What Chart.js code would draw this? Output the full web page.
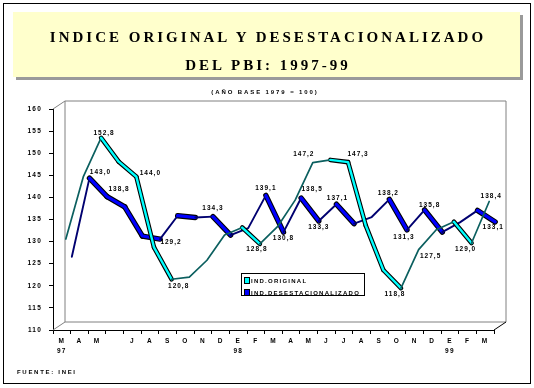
<!DOCTYPE html>
<html><head><meta charset="utf-8">
<script src="https://cdn.jsdelivr.net/npm/chart.js@4.4.0/dist/chart.umd.min.js"></script>
<style>
html,body{margin:0;padding:0;background:#fff;}
#wrap{position:relative;width:534px;height:388px;overflow:hidden;background:#fff;}
#c{position:absolute;left:0;top:0;}
#frame{position:absolute;left:3px;top:3px;width:528px;height:381px;border:1px solid #000;box-sizing:border-box;}
#tshadow{position:absolute;left:16px;top:15px;width:507px;height:65px;background:#9a9a9a;}
#tbox{position:absolute;left:13px;top:12px;width:507px;height:65px;background:#FFFFCC;}
.t{position:absolute;left:13px;width:507px;padding-left:3px;box-sizing:border-box;text-align:center;font:bold 15px "Liberation Serif",serif;letter-spacing:3px;line-height:20px;color:#000;white-space:nowrap;}
#sub{position:absolute;left:0;top:87px;width:530px;text-align:center;font:bold 6px "Liberation Sans",Arial,sans-serif;letter-spacing:1.9px;line-height:10px;white-space:nowrap;}
#legend{position:absolute;left:241px;top:273px;width:124px;height:23px;border:1px solid #000;box-sizing:border-box;background:#fff;}
.sq{position:absolute;left:2px;width:6px;height:7px;border:1px solid #000;box-sizing:border-box;}
.lt{position:absolute;left:9px;font:bold 6px "Liberation Sans",Arial,sans-serif;letter-spacing:1.25px;line-height:8px;white-space:nowrap;}
#foot{position:absolute;left:17px;top:367px;font:bold 6px "Liberation Sans",Arial,sans-serif;letter-spacing:1.7px;line-height:10px;white-space:nowrap;}
</style>
</head><body>
<div id="wrap">
<canvas id="c" width="534" height="388"></canvas>
<div id="frame"></div>
<div id="tshadow"></div><div id="tbox"></div>
<div class="t" style="top:27px">INDICE ORIGINAL Y DESESTACIONALIZADO</div>
<div class="t" style="top:55px">DEL PBI: 1997-99</div>
<div id="sub">(AÑO BASE 1979 = 100)</div>
<div id="legend">
  <div class="sq" style="top:3px;background:#00FFFF"></div><div class="lt" id="lg0" style="top:3px"></div>
  <div class="sq" style="top:15px;background:#0000FF"></div><div class="lt" id="lg1" style="top:15px"></div>
</div>
<div id="foot">FUENTE: INEI</div>
</div>
<script>
// ---- data ----
const months = ['M','A','M','','J','A','S','O','N','D','E','F','M','A','M','J','J','A','S','O','N','D','E','F','M'];
const years  = ['97','','','','','','','','','','98','','','','','','','','','','','','99','',''];
const seriesNames = ['IND.ORIGINAL','IND.DESESTACIONALIZADO'];
const indOriginal = [129.9,144.1,152.8,147.4,144.0,128.0,120.8,121.3,125.1,130.8,132.5,128.8,132.7,138.7,147.2,147.8,147.3,133.0,122.9,118.8,127.5,132.0,133.8,129.0,138.4];
const indDesest   = [125.2,143.0,138.8,136.5,129.9,129.2,134.5,134.1,134.3,130.1,131.7,139.1,130.8,138.5,133.3,137.1,132.7,134.2,138.2,131.3,135.8,130.8,133.0,135.7,133.1];
const yMin = 110, yMax = 160, yStep = 5;
const labeledOriginal = [2,4,6,11,14,16,19,20,23,24];
const labeledDesest   = [1,2,5,8,11,12,13,14,15,18,19,20,24];

// ---- styles ----
const labelOffsets = [
  {2:[3,-5],4:[14,-4],6:[7,7],11:[-3,5],14:[-9,-8],16:[10,-8],19:[-6,6],20:[12,7],23:[-6,6],24:[2,-5]},
  {1:[11,-6],2:[12,-8],5:[11,3],8:[0,-8],11:[0,-7],12:[0,6],13:[11,-9],14:[0,6],15:[1,-6],18:[-1,-6],19:[-3,7],20:[5,-5],24:[-2,5]}
];
const depthOffsets = [[4,-3],[10,-6]];
const styles = [
  {fill:'#00FFFF', rise:'#0b5f5f', w:2.4, ow:4.6, rw:1.7},
  {fill:'#0000FF', rise:'#000070', w:3.2, ow:5.4, rw:1.9}
];
const FONT = {family:'"Liberation Sans", Arial, sans-serif', size:6.5, weight:'bold'};

document.getElementById('lg0').textContent = seriesNames[0];
document.getElementById('lg1').textContent = seriesNames[1];

const labels = months.map((m,i)=> years[i] ? [m, years[i]] : m);
const fmt = v => v.toFixed(1).replace('.', ',');

const spacingPlugin = {
  id:'spacing',
  beforeDraw(chart){ chart.ctx.letterSpacing = '1.2px'; }
};

const wallPlugin = {
  id:'wall',
  beforeDatasetsDraw(chart){
    const {left,top,right,bottom} = chart.chartArea;
    const ctx = chart.ctx, dx = 11.5, dy = -8.5;
    ctx.save();
    ctx.strokeStyle = '#808080'; ctx.lineWidth = 1;
    ctx.beginPath();
    ctx.moveTo(left+dx+0.5, top+dy+0.5); ctx.lineTo(right+dx+0.5, top+dy+0.5);
    ctx.lineTo(right+dx+0.5, bottom+dy+0.5); ctx.lineTo(left+dx+0.5, bottom+dy+0.5); ctx.closePath();
    ctx.moveTo(left, top); ctx.lineTo(left+dx+0.5, top+dy+0.5);
    ctx.moveTo(left, bottom); ctx.lineTo(left+dx+0.5, bottom+dy+0.5);
    ctx.stroke();
    ctx.strokeStyle = '#000';
    ctx.beginPath(); ctx.moveTo(right, bottom); ctx.lineTo(right+dx+0.5, bottom+dy+0.5); ctx.stroke();
    ctx.restore();
  }
};

const ribbonPlugin = {
  id:'ribbon',
  beforeDatasetDraw(chart, args){
    const ctx = chart.ctx, i = args.index, [dx,dy] = depthOffsets[i];
    ctx.save(); ctx.translate(dx,dy);
    const pts = args.meta.data, ds = chart.data.datasets[i].data;
    ctx.strokeStyle = '#000'; ctx.lineWidth = styles[i].ow; ctx.lineJoin='round'; ctx.lineCap='round';
    for (let k=1;k<pts.length;k++){
      if (ds[k] < ds[k-1]) { ctx.beginPath(); ctx.moveTo(pts[k-1].x, pts[k-1].y); ctx.lineTo(pts[k].x, pts[k].y); ctx.stroke(); }
    }
  },
  afterDatasetDraw(chart){ chart.ctx.restore(); }
};

const dataLabelPlugin = {
  id:'dlabels',
  afterDatasetsDraw(chart){
    const ctx = chart.ctx;
    [labeledOriginal, labeledDesest].forEach((idxs, i)=>{
      const meta = chart.getDatasetMeta(i), ds = chart.data.datasets[i].data, [dx,dy] = depthOffsets[i];
      ctx.save(); ctx.translate(dx,dy);
      ctx.font = 'bold 6.5px "Liberation Sans", Arial, sans-serif';
      ctx.letterSpacing = '1px';
      ctx.fillStyle = '#000'; ctx.textAlign = 'center'; ctx.textBaseline = 'middle';
      idxs.forEach(k=>{
        const p = meta.data[k], off = labelOffsets[i][k] || [0,-6];
        ctx.fillText(fmt(ds[k]), p.x + off[0], p.y + off[1]);
      });
      ctx.restore();
    });
  }
};

function mkDataset(name, values, i){
  const s = styles[i];
  return {
    label: name, data: values, borderColor: s.fill, borderWidth: s.w,
    pointRadius: 0, tension: 0, fill: false, clip: false,
    borderJoinStyle: 'round', borderCapStyle: 'round',
    segment: {
      borderColor: c => c.p1.parsed.y >= c.p0.parsed.y ? s.rise : s.fill,
      borderWidth: c => c.p1.parsed.y >= c.p0.parsed.y ? s.rw : s.w
    }
  };
}

new Chart(document.getElementById('c'), {
  type: 'line',
  data: { labels, datasets: [mkDataset(seriesNames[0], indOriginal, 0), mkDataset(seriesNames[1], indDesest, 1)] },
  options: {
    responsive: false, animation: false, devicePixelRatio: 1,
    layout: { padding: { left: 0, top: 109, right: 40, bottom: 28 } },
    plugins: { legend: { display: false }, tooltip: { enabled: false } },
    scales: {
      x: {
        type: 'category', offset: true,
        grid: { display: true, drawOnChartArea: false, drawTicks: true, tickLength: 4, color: '#000', offset: true },
        border: { display: true, color: '#000', width: 1 },
        ticks: { autoSkip: false, maxRotation: 0, minRotation: 0, color: '#000', font: {...FONT, lineHeight: 1.55}, padding: 2 },
        afterFit: s => { s.height = 30; }
      },
      y: {
        min: yMin, max: yMax,
        grid: { display: true, drawOnChartArea: false, drawTicks: true, tickLength: 4, color: '#000' },
        border: { display: true, color: '#000', width: 1 },
        ticks: { stepSize: yStep, color: '#000', font: FONT, padding: 7, callback: v => String(v) },
        afterFit: s => { s.width = 53; }
      }
    }
  },
  plugins: [spacingPlugin, wallPlugin, ribbonPlugin, dataLabelPlugin]
});
</script>
</body></html>
